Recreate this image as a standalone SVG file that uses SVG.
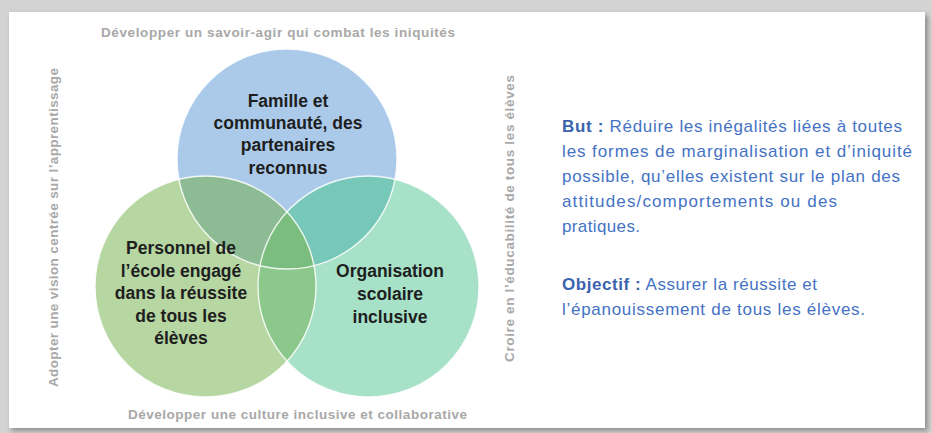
<svg xmlns="http://www.w3.org/2000/svg" width="932" height="433" viewBox="0 0 932 433">
  <defs>
    <filter id="shadow" x="-5%" y="-5%" width="110%" height="110%">
      <feGaussianBlur stdDeviation="2.5"/>
    </filter>
    <clipPath id="clipBlue"><circle cx="287" cy="159" r="110"/></clipPath>
    <clipPath id="clipGreen"><circle cx="205.5" cy="286.5" r="110.5"/></clipPath>
    <clipPath id="clipTeal"><circle cx="368.5" cy="286.5" r="110.5"/></clipPath>
    <style>
      .frame-text { font-family: "Liberation Sans", Arial, sans-serif; font-size: 13.5px; font-weight: bold; fill: #a8a8a8; }
      .node-text { font-family: "Liberation Sans", Arial, sans-serif; font-size: 17.5px; font-weight: bold; fill: #1e1e1e; text-anchor: middle; }
      .goal-text { font-family: "Liberation Sans", Arial, sans-serif; font-size: 17px; fill: #4472c4; }
      .goal-bold { font-weight: bold; fill: #3b63ad; }
      .outline { fill: none; stroke: #ffffff; stroke-width: 1.4; stroke-opacity: 0.85; }
    </style>
  </defs>

  <!-- background frame -->
  <rect x="0" y="0" width="932" height="433" fill="#d3d3d3"/>
  <rect x="11" y="15" width="917" height="416" fill="#8f8f8f" filter="url(#shadow)"/>
  <rect x="9" y="12" width="916" height="416" fill="#ffffff"/>

  <!-- circles -->
  <g id="node-famille">
    <circle cx="287" cy="159" r="110" fill="#abcaea"/>
  </g>
  <g id="node-personnel">
    <circle cx="205.5" cy="286.5" r="110.5" fill="#b6d6a2"/>
  </g>
  <g id="node-organisation">
    <circle cx="368.5" cy="286.5" r="110.5" fill="#a6e1c8"/>
  </g>

  <!-- overlap regions -->
  <g id="overlaps">
    <g clip-path="url(#clipBlue)">
      <circle cx="205.5" cy="286.5" r="110.5" fill="#8dbb93"/>
      <circle cx="368.5" cy="286.5" r="110.5" fill="#78c8b9"/>
    </g>
    <g clip-path="url(#clipGreen)">
      <circle cx="368.5" cy="286.5" r="110.5" fill="#8cc88b"/>
      <g clip-path="url(#clipTeal)">
        <circle cx="287" cy="159" r="110" fill="#7abd7f"/>
      </g>
    </g>
    <circle class="outline" cx="287" cy="159" r="110" stroke-opacity="0.5"/>
    <circle class="outline" cx="205.5" cy="286.5" r="110.5"/>
    <circle class="outline" cx="368.5" cy="286.5" r="110.5"/>
  </g>

  <!-- circle labels -->
  <g id="label-famille">
    <text class="node-text" x="288" y="107">Famille et</text>
    <text class="node-text" x="288" y="129">communauté, des</text>
    <text class="node-text" x="288" y="151">partenaires</text>
    <text class="node-text" x="288" y="174">reconnus</text>
  </g>
  <g id="label-personnel">
    <text class="node-text" x="181" y="254">Personnel de</text>
    <text class="node-text" x="181" y="277">l’école engagé</text>
    <text class="node-text" x="181" y="299">dans la réussite</text>
    <text class="node-text" x="181" y="322">de tous les</text>
    <text class="node-text" x="181" y="344">élèves</text>
  </g>
  <g id="label-organisation">
    <text class="node-text" x="390" y="277">Organisation</text>
    <text class="node-text" x="390" y="300">scolaire</text>
    <text class="node-text" x="390" y="323">inclusive</text>
  </g>

  <!-- frame labels -->
  <g id="frame-labels">
    <text class="frame-text" x="101" y="37" textLength="354" lengthAdjust="spacing">Développer un savoir-agir qui combat les iniquités</text>
    <text class="frame-text" x="128" y="419" textLength="339" lengthAdjust="spacing">Développer une culture inclusive et collaborative</text>
    <text class="frame-text" transform="translate(58,387) rotate(-90)" x="0" y="0" textLength="319" lengthAdjust="spacing">Adopter une vision centrée sur l’apprentissage</text>
    <text class="frame-text" transform="translate(514,362) rotate(-90)" x="0" y="0" textLength="287" lengthAdjust="spacing">Croire en l’éducabilité de tous les élèves</text>
  </g>

  <!-- goal text -->
  <g id="goal">
    <text class="goal-text" x="562" y="132" textLength="340" lengthAdjust="spacing"><tspan class="goal-bold">But :</tspan>  Réduire les inégalités liées à toutes</text>
    <text class="goal-text" x="562" y="157" textLength="350" lengthAdjust="spacing">les formes de marginalisation et d’iniquité</text>
    <text class="goal-text" x="562" y="182" textLength="338" lengthAdjust="spacing">possible, qu’elles existent sur le plan des</text>
    <text class="goal-text" x="562" y="207" textLength="275" lengthAdjust="spacing">attitudes/comportements ou des</text>
    <text class="goal-text" x="562" y="232" textLength="78" lengthAdjust="spacing">pratiques.</text>
    <text class="goal-text" x="562" y="290" textLength="255" lengthAdjust="spacing"><tspan class="goal-bold">Objectif :</tspan> Assurer la réussite et</text>
    <text class="goal-text" x="562" y="315" textLength="303" lengthAdjust="spacing">l’épanouissement de tous les élèves.</text>
  </g>
</svg>
